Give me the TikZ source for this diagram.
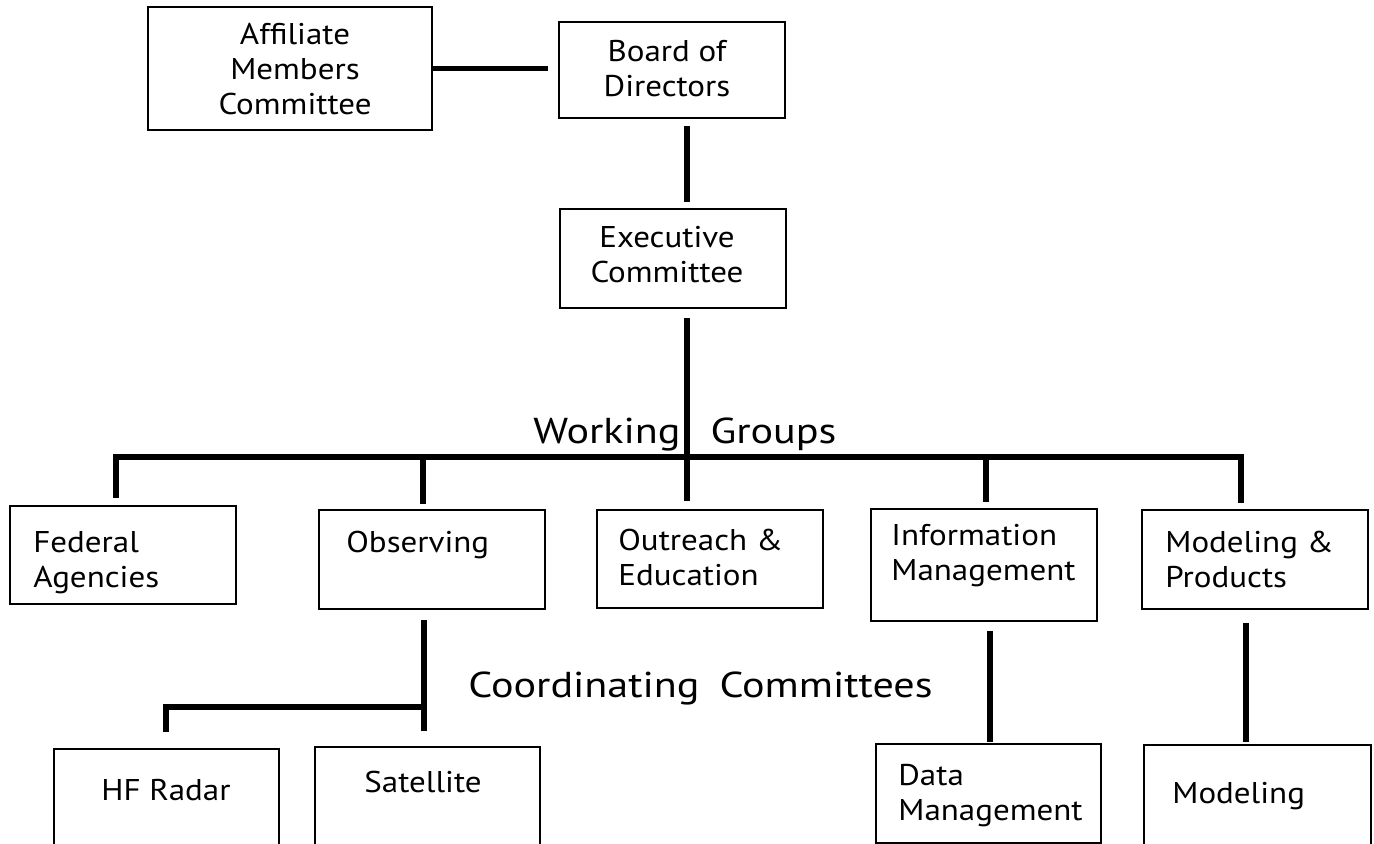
\documentclass[tikz,border=0pt]{standalone}
\usepackage{fontspec}
\setmainfont{PT Sans}
\newfontfamily\boxfont[FakeStretch=1.1]{PT Sans}
\newfontfamily\bigfont[FakeStretch=1.17]{PT Sans}
\usetikzlibrary{fit}
\begin{document}
\begin{tikzpicture}[x=0.5pt,y=-0.5pt,
  box/.style={draw, line width=1.25pt, inner sep=0pt},
  conn/.style={line width=2.7pt},
  txt/.style={font=\boxfont\fontsize{15}{17.5}\selectfont, align=left, inner sep=0pt},
  ctxt/.style={txt, align=center},
  big/.style={font=\bigfont\fontsize{18}{21}\selectfont, inner sep=0pt}]
\useasboundingbox (0,0) rectangle (1374,844);
\clip (0,0) rectangle (1374,844);
% boxes
\node[box, fit={(148,7) (432,130)}] (aff) {};
\node[box, fit={(559,22) (785,118)}] (board) {};
\node[box, fit={(560,209) (786,308)}] (exec) {};
\node[box, fit={(10,506) (236,604)}] (fed) {};
\node[box, fit={(319,510) (545,609)}] (obs) {};
\node[box, fit={(597,510) (823,608)}] (out) {};
\node[box, fit={(871,509) (1097,621)}] (info) {};
\node[box, fit={(1142,510) (1368,609)}] (mp) {};
\node[box, fit={(54,749) (279,860)}] (hf) {};
\node[box, fit={(315,747) (540,860)}] (sat) {};
\node[box, fit={(876,744) (1101,843)}] (data) {};
\node[box, fit={(1144,745) (1371,860)}] (mod) {};
% texts (anchor base = baseline of the last line)
\node[ctxt, anchor=base] (affT) at (295,115) {Affiliate\\Members\\Committee};
\node[ctxt, anchor=base] (boardT) at (667,97) {Board of\\Directors};
\node[ctxt, anchor=base] (execT) at (667,283) {Executive\\Committee};
\node[txt, anchor=base west] (fedT) at (33,587) {Federal\\Agencies};
\node[txt, anchor=base west] (obsT) at (346,552) {Observing};
\node[txt, anchor=base west] (outT) at (618,585) {Outreach \&\\Education};
\node[txt, anchor=base west] (infT) at (891,580) {Information\\Management};
\node[txt, anchor=base west] (mpT) at (1165,587) {Modeling \&\\Products};
\node[txt, anchor=base] (hfT) at (166,800) {HF Radar};
\node[txt, anchor=base] (satT) at (423,792) {Satellite};
\node[txt, anchor=base west] (dataT) at (898,820) {Data\\Management};
\node[txt, anchor=base west] (modT) at (1172,803) {Modeling};
\node[big, anchor=base west] (wg) at (533,443) {Working\hspace{15pt}Groups};
\node[big, anchor=base west] (cc) at (468,697) {Coordinating\hspace{10pt}Committees};
% coordinates
\coordinate (sp) at (687,0);
\coordinate (bl) at (116,457);
\coordinate (br) at (1241,457);
\coordinate (ob) at (423,457);
\coordinate (ib) at (986,457);
\coordinate (cj) at (424,707);
\coordinate (hj) at (166,707);
\coordinate (dj) at (990,0);
\coordinate (mj) at (1246,0);
% connectors
\draw[conn, shorten >=5pt] (aff.east) -- (aff.east -| board.west);
\draw[conn, shorten <=3.5pt, shorten >=3pt] (board.south -| sp) -- (exec.north -| sp);
\draw[conn, shorten <=4.5pt, shorten >=4pt] (exec.south -| sp) -- (out.north -| sp);
\draw[conn, shorten <=3.5pt, shorten >=3pt] (fed.north -| bl) -- (bl) -- (br) -- (mp.north -| br);
\draw[conn, shorten >=2.5pt] (ob) -- (ob |- obs.north);
\draw[conn, shorten >=3pt] (ib) -- (ib |- info.north);
\draw[conn, shorten <=5pt, shorten >=7.5pt] (obs.south -| cj) -- (sat.north -| cj);
\draw[conn, shorten >=8pt] (cj) -- (hj) -- (hf.north -| hj);
\draw[conn, shorten <=4.5pt, shorten >=0.5pt] (info.south -| dj) -- (data.north -| dj);
\draw[conn, shorten <=6.5pt, shorten >=1pt] (mp.south -| mj) -- (mod.north -| mj);
\end{tikzpicture}
\end{document}
